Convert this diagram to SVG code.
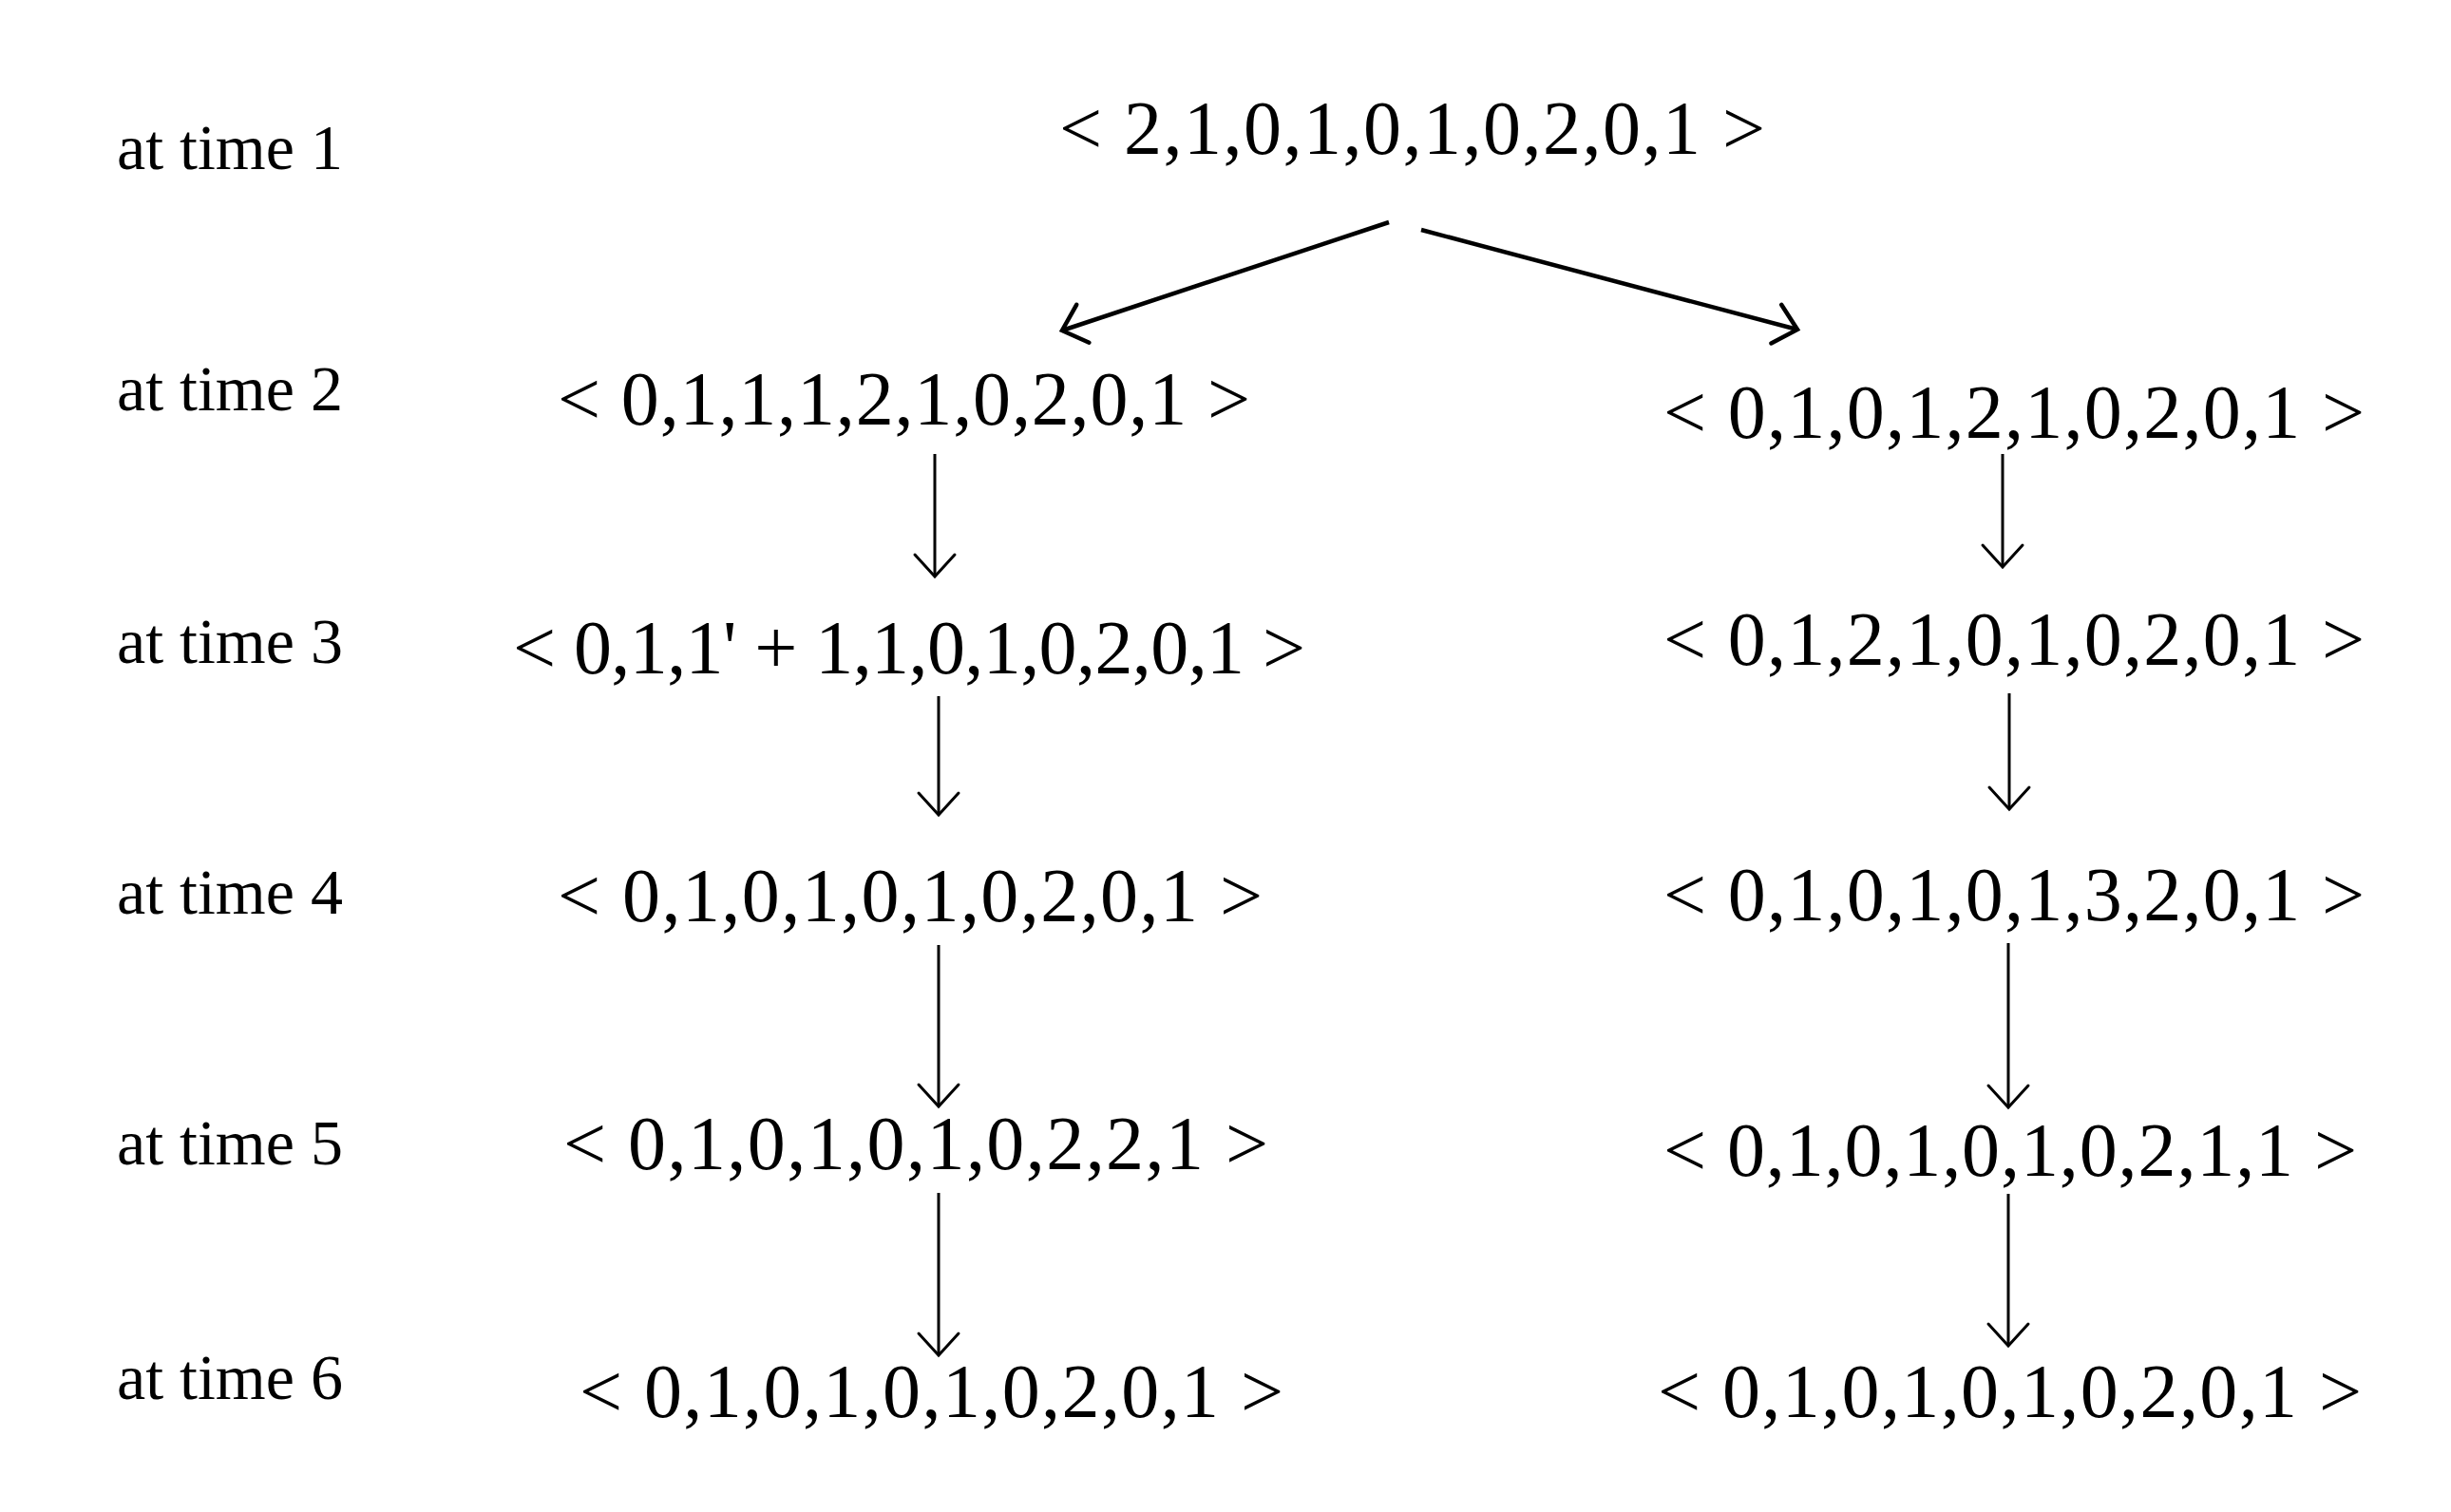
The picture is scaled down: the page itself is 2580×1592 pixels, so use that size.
<svg xmlns="http://www.w3.org/2000/svg" width="2580" height="1592" viewBox="0 0 2580 1592">
<style>
.lbl{font-family:"Liberation Serif","Times New Roman",serif;font-size:68px;fill:#000}
.vec{font-family:"Liberation Serif","Times New Roman",serif;font-size:80px;fill:#000}
.ln{stroke:#000;stroke-width:3;fill:none}
.dg{stroke:#000;stroke-width:4.5;fill:none}
</style>
<defs>
<marker id="ah" markerUnits="userSpaceOnUse" viewBox="-30 -30 40 60" refX="0" refY="0" markerWidth="40" markerHeight="60" orient="auto" overflow="visible">
<path d="M-23,-21 L0,0 L-23,21" fill="none" stroke="#000" stroke-width="3" stroke-linecap="round"/>
</marker>
<marker id="ahd" markerUnits="userSpaceOnUse" viewBox="-30 -30 40 60" refX="0" refY="0" markerWidth="40" markerHeight="60" orient="auto" overflow="visible">
<path d="M-23,-21 L0,0 L-23,21" fill="none" stroke="#000" stroke-width="4.5" stroke-linecap="round"/>
</marker>
</defs>
<rect width="2580" height="1592" fill="#fff"/>
<g id="labels">
<text class="lbl" x="123" y="178">at time 1</text>
<text class="lbl" x="123" y="432">at time 2</text>
<text class="lbl" x="123" y="698">at time 3</text>
<text class="lbl" x="123" y="962">at time 4</text>
<text class="lbl" x="123" y="1226">at time 5</text>
<text class="lbl" x="123" y="1473">at time 6</text>
</g>
<g id="n1"><text class="vec" x="1115" y="162" textLength="743" lengthAdjust="spacing">&lt; 2,1,0,1,0,1,0,2,0,1 &gt;</text></g>
<g id="n2L"><text class="vec" x="587" y="447" textLength="729" lengthAdjust="spacing">&lt; 0,1,1,1,2,1,0,2,0,1 &gt;</text></g>
<g id="n2R"><text class="vec" x="1751" y="461" textLength="738" lengthAdjust="spacing">&lt; 0,1,0,1,2,1,0,2,0,1 &gt;</text></g>
<g id="n3L"><text class="vec" x="540" y="709" textLength="834" lengthAdjust="spacing">&lt; 0,1,1' + 1,1,0,1,0,2,0,1 &gt;</text></g>
<g id="n3R"><text class="vec" x="1751" y="700" textLength="738" lengthAdjust="spacing">&lt; 0,1,2,1,0,1,0,2,0,1 &gt;</text></g>
<g id="n4L"><text class="vec" x="587" y="970" textLength="742" lengthAdjust="spacing">&lt; 0,1,0,1,0,1,0,2,0,1 &gt;</text></g>
<g id="n4R"><text class="vec" x="1751" y="969" textLength="738" lengthAdjust="spacing">&lt; 0,1,0,1,0,1,3,2,0,1 &gt;</text></g>
<g id="n5L"><text class="vec" x="593" y="1231" textLength="742" lengthAdjust="spacing">&lt; 0,1,0,1,0,1,0,2,2,1 &gt;</text></g>
<g id="n5R"><text class="vec" x="1751" y="1238" textLength="730" lengthAdjust="spacing">&lt; 0,1,0,1,0,1,0,2,1,1 &gt;</text></g>
<g id="n6L"><text class="vec" x="610" y="1492" textLength="741" lengthAdjust="spacing">&lt; 0,1,0,1,0,1,0,2,0,1 &gt;</text></g>
<g id="n6R"><text class="vec" x="1745" y="1492" textLength="741" lengthAdjust="spacing">&lt; 0,1,0,1,0,1,0,2,0,1 &gt;</text></g>
<g id="connectors">
<line class="dg" x1="1462" y1="234" x2="1118" y2="348" marker-end="url(#ahd)"/>
<line class="dg" x1="1496" y1="242" x2="1892" y2="347" marker-end="url(#ahd)"/>
<line class="ln" x1="984" y1="478" x2="984" y2="607" marker-end="url(#ah)"/>
<line class="ln" x1="988" y1="733" x2="988" y2="858" marker-end="url(#ah)"/>
<line class="ln" x1="988" y1="995" x2="988" y2="1165" marker-end="url(#ah)"/>
<line class="ln" x1="988" y1="1256" x2="988" y2="1427" marker-end="url(#ah)"/>
<line class="ln" x1="2108" y1="478" x2="2108" y2="597" marker-end="url(#ah)"/>
<line class="ln" x1="2115" y1="730" x2="2115" y2="852" marker-end="url(#ah)"/>
<line class="ln" x1="2114" y1="993" x2="2114" y2="1166" marker-end="url(#ah)"/>
<line class="ln" x1="2114" y1="1257" x2="2114" y2="1417" marker-end="url(#ah)"/>
</g>
</svg>
